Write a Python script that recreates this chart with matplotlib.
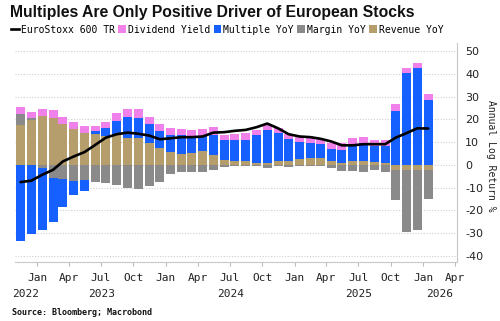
import numpy as np
import pandas as pd
import matplotlib
matplotlib.use("Agg")
import matplotlib.pyplot as plt
import matplotlib.dates as mdates
from matplotlib.lines import Line2D
from matplotlib.patches import Patch

plt.rcParams["axes.unicode_minus"] = False

# Monthly decomposition of annual log return (%), Nov 2022 .. Jan 2026
months = pd.date_range("2022-11-01", "2026-01-01", freq="MS") + pd.Timedelta(days=14)

revenue = [17.6, 19.7, 21.7, 20.8, 17.9, 15.7, 14.0, 13.5, 12.8, 13.0, 11.7, 11.7, 9.6,
           7.3, 5.5, 4.6, 5.1, 5.9, 4.4, 2.2, 1.5, 1.5, 1.0, 0.7, 1.5, 1.8,
           2.6, 3.0, 3.0, 1.5, 0.7, 1.9, 1.5, 1.2, 1.0, -2.2, -2.2, -2.2, -2.2]
margin = [4.7, 1.1, -1.5, -5.9, -6.2, -7.0, -6.6, -7.5, -8.0, -9.1, -10.0, -10.7, -9.5,
          -7.6, -4.1, -3.3, -3.3, -3.3, -2.2, -1.0, -0.7, -0.7, -0.7, -1.5, -0.7, -0.8,
          -0.5, -0.3, -0.5, -1.5, -2.5, -2.5, -3.0, -2.2, -3.0, -13.5, -27.2, -26.7, -12.9]
multiple = [-33.5, -30.5, -27.1, -19.5, -12.2, -6.5, -5.1, 1.5, 3.5, 6.5, 9.6, 9.1, 8.3,
            7.4, 7.7, 8.5, 7.4, 6.6, 8.8, 8.8, 9.5, 9.5, 12.2, 14.7, 12.7, 9.4,
            7.6, 6.6, 6.0, 5.3, 5.9, 7.0, 8.1, 7.2, 7.1, 23.9, 40.4, 42.6, 28.6]
dividend = [3.4, 2.7, 3.0, 3.4, 3.4, 3.4, 2.9, 2.0, 2.8, 3.4, 3.4, 3.9, 3.4,
            3.2, 2.9, 2.8, 2.9, 3.4, 3.4, 2.2, 2.7, 2.9, 2.2, 2.4, 2.0, 2.4,
            2.3, 2.4, 2.6, 2.8, 3.0, 2.8, 2.6, 2.6, 2.9, 2.8, 2.2, 2.5, 2.5]
eurostoxx = [-7.6, -7.0, -4.4, -2.2, 1.5, 3.7, 5.6, 8.8, 12.0, 13.5, 14.2, 13.7, 12.9,
             11.3, 11.7, 12.2, 12.2, 12.5, 14.2, 14.4, 15.0, 15.4, 16.6, 18.2, 16.1, 13.5,
             12.5, 12.2, 11.5, 10.3, 8.6, 8.6, 9.1, 9.1, 9.1, 12.0, 14.0, 16.1, 16.0]

series = [("Revenue YoY", revenue, "#b59e6c"),
          ("Margin YoY", margin, "#8a8a8a"),
          ("Multiple YoY", multiple, "#1660ff"),
          ("Dividend Yield", dividend, "#f080ea")]

mono = "DejaVu Sans Mono"

fig = plt.figure(figsize=(5.0, 3.21), dpi=100)
ax = fig.add_axes([0.03, 0.184, 0.8834, 0.682])

# stacked bars: positives build upward, negatives build downward
pos_base = np.zeros(len(months))
neg_base = np.zeros(len(months))
for name, vals, col in series:
    v = np.asarray(vals, dtype=float)
    pos = np.where(v > 0, v, 0.0)
    neg = np.where(v < 0, v, 0.0)
    ax.bar(months, pos, bottom=pos_base, width=25.5, color=col, linewidth=0, zorder=2)
    ax.bar(months, neg, bottom=neg_base, width=25.5, color=col, linewidth=0, zorder=2)
    pos_base += pos
    neg_base += neg

ax.plot(months, eurostoxx, color="black", linewidth=1.9, zorder=3,
        solid_joinstyle="round", solid_capstyle="round")

ax.set_xlim(pd.Timestamp("2022-10-30"), pd.Timestamp("2026-04-06"))
ax.set_ylim(-42.8, 53.7)

ax.yaxis.tick_right()
ax.set_yticks(np.arange(-40, 51, 10))
ax.tick_params(axis="y", length=0, pad=6, labelsize=8, labelcolor="#222222")
ax.grid(axis="y", linestyle=(0, (1, 1.5)), color="#cfcfcf", linewidth=0.8, zorder=0)
fig.text(0.981, 0.515, "Annual Log Return %", rotation=270, family=mono, fontsize=7,
         color="#222222", ha="center", va="center")

quarters = pd.date_range("2023-01-01", "2026-04-01", freq="QS")
ax.set_xticks(quarters)
ax.set_xticklabels([d.strftime("%b") for d in quarters], family=mono, fontsize=8,
                   color="#222222")
ax.tick_params(axis="x", length=3, color="#bbbbbb", pad=5)

for s in ["left", "top"]:
    ax.spines[s].set_visible(False)
for s in ["right", "bottom"]:
    ax.spines[s].set_color("#c8c8c8")
    ax.spines[s].set_linewidth(0.8)

# year labels centred on the visible part of each year
x0, x1 = ax.get_xlim()
for yr in range(2022, 2027):
    a = max(mdates.date2num(pd.Timestamp(f"{yr}-01-01")), x0)
    b = min(mdates.date2num(pd.Timestamp(f"{yr + 1}-01-01")), x1)
    ax.text((a + b) / 2, -0.125, str(yr), transform=ax.get_xaxis_transform(),
            ha="center", va="top", family=mono, fontsize=8, color="#222222")

fig.text(0.02, 0.962, "Multiples Are Only Positive Driver of European Stocks",
         family="Liberation Sans", fontweight="bold", fontsize=11.3, va="center",
         ha="left", color="#111111")

handles = [Line2D([], [], color="black", linewidth=1.9)]
labels = ["EuroStoxx 600 TR"]
for name, vals, col in [series[3], series[2], series[1], series[0]]:
    handles.append(Patch(facecolor=col, edgecolor="none"))
    labels.append(name)
leg = fig.legend(handles, labels, loc="center left", bbox_to_anchor=(0.022, 0.908),
                 ncol=5, frameon=False, prop={"family": mono, "size": 7},
                 handlelength=0.8, handleheight=0.8, handletextpad=0.2,
                 columnspacing=0.35, borderaxespad=0, borderpad=0)

fig.text(0.024, 0.028, "Source: Bloomberg; Macrobond", family=mono, fontweight="bold",
         fontsize=6, va="center", ha="left", color="#111111")

fig.savefig("out.png", dpi=100)
